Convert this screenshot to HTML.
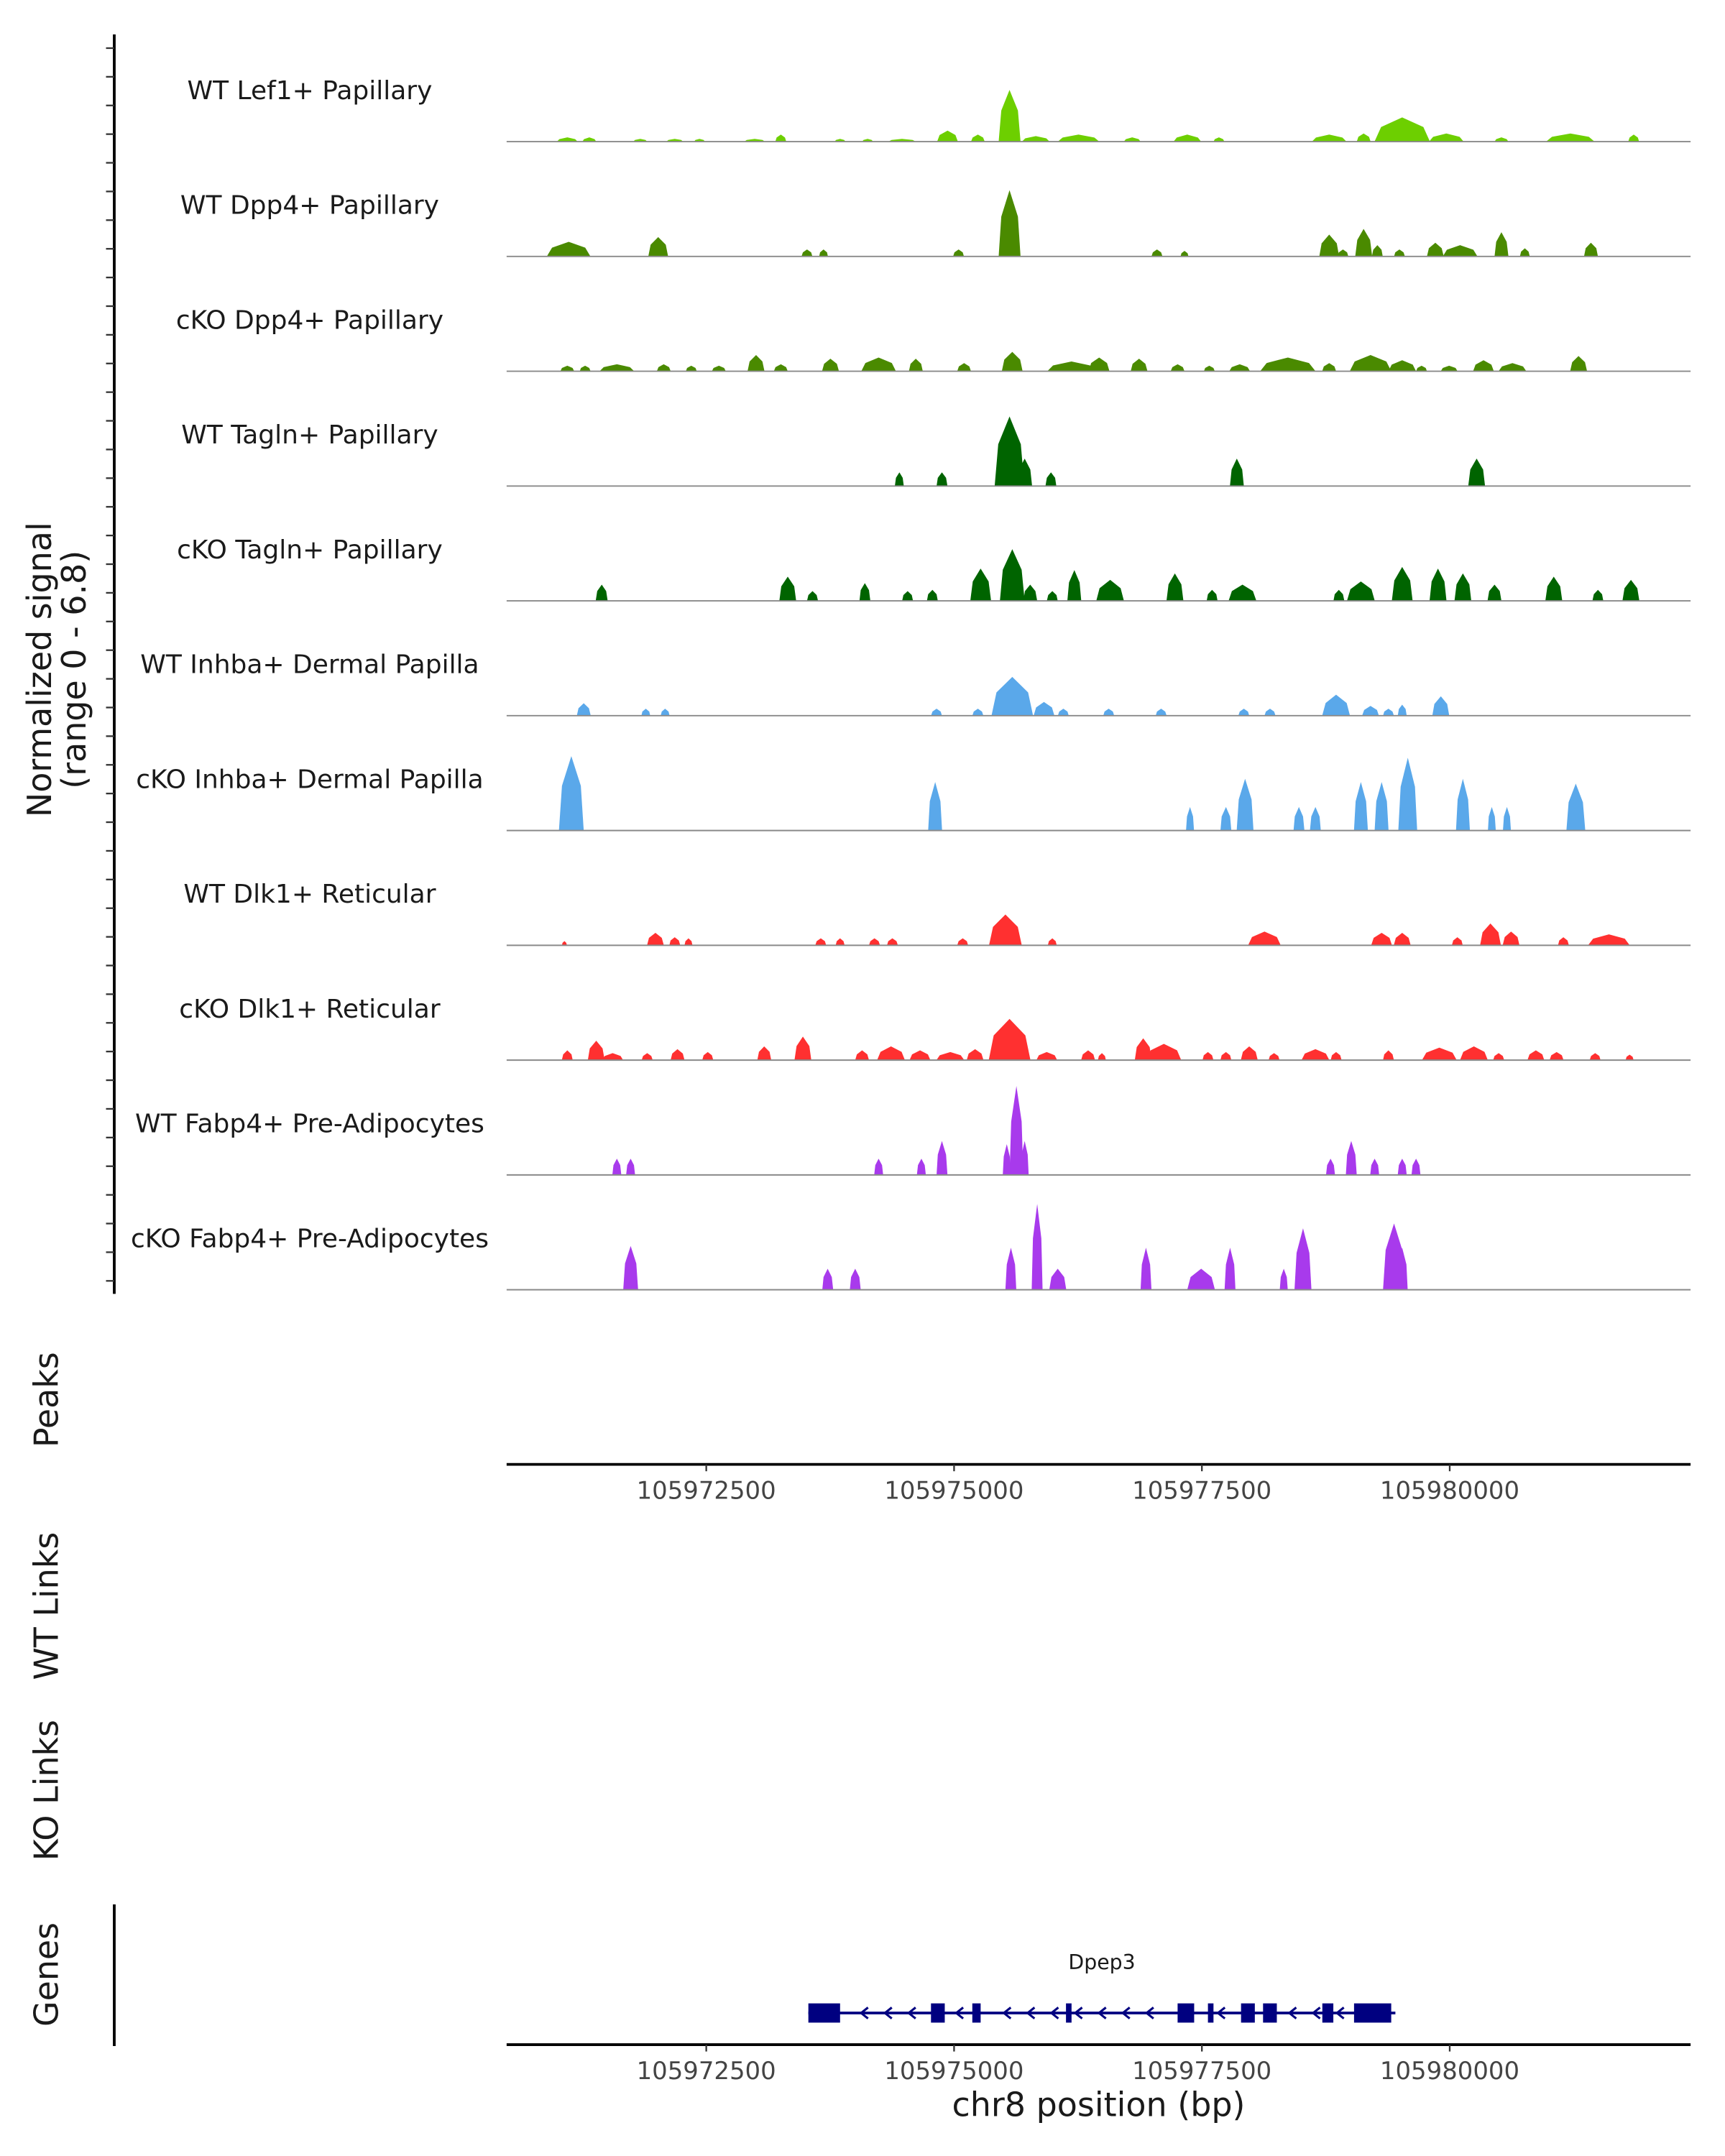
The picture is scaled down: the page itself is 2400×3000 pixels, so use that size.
<!DOCTYPE html>
<html><head><meta charset="utf-8"><style>
html,body{margin:0;padding:0;background:#fff}
svg{display:block}
text{font-family:"DejaVu Sans","Liberation Sans",sans-serif;fill:#1a1a1a}
</style></head><body>
<svg id="chart" xmlns="http://www.w3.org/2000/svg" width="2400" height="3000" viewBox="0 0 1253 1568" preserveAspectRatio="none">
<rect width="1253" height="1568" fill="#fff"/>
<g id="tracks"></g>
<g id="axes"></g>
<g id="gene"></g>
</svg>
<script>
// ---- data ----
const regionStart = 105970486;
const regionEnd = 105982430;
const signalMax = 6.8;
const xTicks = [105972500, 105975000, 105977500, 105980000];
const trackNames = ["WT Lef1+ Papillary","WT Dpp4+ Papillary","cKO Dpp4+ Papillary","WT Tagln+ Papillary","cKO Tagln+ Papillary","WT Inhba+ Dermal Papilla","cKO Inhba+ Dermal Papilla","WT Dlk1+ Reticular","cKO Dlk1+ Reticular","WT Fabp4+ Pre-Adipocytes","cKO Fabp4+ Pre-Adipocytes"];
const trackColors = ["#6dcf00","#4a8a00","#4a8a00","#006400","#006400","#5aa8ea","#5aa8ea","#ff3030","#ff3030","#a83aec","#a83aec"];
// peaks: [positionBp, widthBp, signal]
const lef1WT = [[105971098,210,0.26],[105971320,140,0.26],[105971834,140,0.17],[105972182,170,0.17],[105972432,110,0.17],[105972988,210,0.17],[105973252,110,0.43],[105973850,110,0.17],[105974128,110,0.17],[105974475,280,0.17],[105974934,210,0.68],[105975240,140,0.43],[105975560,220,3.2],[105975824,280,0.34],[105976255,420,0.43],[105976797,170,0.26],[105977353,280,0.43],[105977672,110,0.26],[105978784,350,0.43],[105979132,140,0.5],[105979521,560,1.5],[105979966,350,0.5],[105980522,140,0.26],[105981217,490,0.5],[105981856,110,0.43]];
const dpp4WT = [[105971112,440,0.9],[105972015,200,1.2],[105973516,110,0.43],[105973683,90,0.43],[105975045,110,0.43],[105975560,220,4.1],[105977047,110,0.43],[105977325,80,0.34],[105978784,200,1.35],[105978923,110,0.43],[105979132,170,1.7],[105979270,110,0.7],[105979493,110,0.43],[105979855,170,0.85],[105980105,350,0.7],[105980522,140,1.5],[105980758,100,0.5],[105981425,140,0.85]];
const dpp4KO = [[105971098,140,0.34],[105971278,110,0.34],[105971598,350,0.43],[105972071,140,0.43],[105972349,110,0.34],[105972627,140,0.34],[105973002,170,1.0],[105973252,140,0.43],[105973753,170,0.77],[105974239,350,0.85],[105974614,140,0.77],[105975101,140,0.5],[105975587,210,1.2],[105976185,490,0.6],[105976463,210,0.85],[105976866,170,0.77],[105977255,140,0.43],[105977575,110,0.34],[105977881,210,0.43],[105978367,560,0.85],[105978784,140,0.5],[105979201,420,1.0],[105979521,280,0.68],[105979716,110,0.34],[105979994,170,0.34],[105980341,210,0.68],[105980633,280,0.5],[105981300,170,0.94]];
const taglnWT = [[105974448,90,0.85],[105974878,110,0.85],[105975560,300,4.3],[105975712,150,1.7],[105975977,110,0.85],[105977853,140,1.7],[105980272,170,1.7]];
const taglnKO = [[105971445,120,1.0],[105973322,170,1.5],[105973572,110,0.6],[105974100,110,1.1],[105974531,110,0.6],[105974781,110,0.68],[105975268,210,2.0],[105975587,250,3.2],[105975768,140,1.0],[105975991,110,0.6],[105976213,140,1.9],[105976574,280,1.3],[105977228,170,1.7],[105977603,110,0.68],[105977909,280,1.0],[105978882,110,0.68],[105979104,280,1.2],[105979521,210,2.1],[105979882,170,2.0],[105980133,170,1.7],[105980452,140,1.0],[105981050,170,1.5],[105981495,110,0.68],[105981828,170,1.3]];
const inhbaWT = [[105971264,140,0.77],[105971890,90,0.43],[105972085,90,0.43],[105974823,110,0.43],[105975240,110,0.43],[105975587,420,2.4],[105975907,210,0.85],[105976102,110,0.43],[105976560,110,0.43],[105977089,110,0.43],[105977923,110,0.43],[105978187,110,0.43],[105978854,280,1.3],[105979201,170,0.6],[105979382,110,0.43],[105979521,90,0.68],[105979910,170,1.2]];
const inhbaKO = [[105971139,250,4.6],[105974809,140,3.0],[105977380,80,1.45],[105977742,110,1.45],[105977936,170,3.2],[105978479,110,1.45],[105978645,110,1.45],[105979104,140,3.0],[105979313,140,3.0],[105979577,190,4.5],[105980133,140,3.2],[105980425,80,1.45],[105980577,80,1.45],[105981272,190,2.9]];
const dlk1WT = [[105971069,50,0.26],[105971987,170,0.77],[105972182,110,0.5],[105972321,80,0.43],[105973655,110,0.43],[105973850,90,0.43],[105974197,110,0.43],[105974378,110,0.43],[105975087,110,0.43],[105975518,330,1.9],[105975991,90,0.43],[105978131,330,0.85],[105979313,210,0.77],[105979521,170,0.77],[105980077,110,0.5],[105980411,210,1.35],[105980619,170,0.85],[105981147,110,0.5],[105981606,420,0.68]];
const dlk1KO = [[105971098,110,0.6],[105971390,170,1.2],[105971556,210,0.43],[105971904,110,0.43],[105972210,140,0.68],[105972515,110,0.5],[105973085,140,0.85],[105973475,170,1.45],[105974072,140,0.6],[105974364,280,0.85],[105974656,210,0.6],[105974962,280,0.5],[105975212,170,0.68],[105975560,420,2.55],[105975935,210,0.5],[105976352,140,0.6],[105976491,80,0.43],[105976908,170,1.35],[105977116,350,1.0],[105977561,110,0.5],[105977742,110,0.5],[105977978,170,0.85],[105978228,110,0.43],[105978645,280,0.68],[105978854,110,0.5],[105979382,110,0.6],[105979896,350,0.77],[105980244,280,0.85],[105980494,110,0.43],[105980869,170,0.6],[105981078,140,0.5],[105981467,110,0.43],[105981815,80,0.34]];
const fabp4WT = [[105971598,90,1.0],[105971737,90,1.0],[105974239,90,1.0],[105974670,90,1.0],[105974878,110,2.1],[105975532,80,1.9],[105975629,140,5.5],[105975712,80,2.1],[105978798,90,1.0],[105979007,110,2.1],[105979243,90,1.0],[105979521,90,1.0],[105979660,90,1.0]];
const fabp4KO = [[105971737,150,2.7],[105973725,110,1.3],[105974003,110,1.3],[105975573,110,2.6],[105975838,110,5.3],[105976046,170,1.3],[105976936,110,2.6],[105977492,280,1.3],[105977784,110,2.6],[105978326,80,1.3],[105978520,170,3.8],[105979438,220,4.1],[105979521,110,2.6]];
const trackData = [lef1WT,dpp4WT,dpp4KO,taglnWT,taglnKO,inhbaWT,inhbaKO,dlk1WT,dlk1KO,fabp4WT,fabp4KO];
const geneName = "Dpep3";
const geneStart = 105973530;
const geneEnd = 105979452;
const exonStarts = [105973530,105974767,105975184,105976129,105977255,105977561,105977895,105978117,105978715,105979035];
const exonEnds   = [105973850,105974906,105975268,105976185,105977422,105977617,105978034,105978256,105978826,105979410];

// ---- layout ----
const NS = "http://www.w3.org/2000/svg";
const X0 = 368, X1 = 1228;
const firstBase = 103, trackStep = 83.5, trackH = 80;
const xScale = bp => X0 + (bp - regionStart) / (regionEnd - regionStart) * (X1 - X0);
const yScale = (v, base) => base - v / signalMax * trackH;
function mk(tag, attrs, parent, text) {
  const e = document.createElementNS(NS, tag);
  for (const k in attrs) e.setAttribute(k, attrs[k]);
  if (text !== undefined) e.textContent = text;
  parent.appendChild(e);
  return e;
}
const tracks = document.getElementById('tracks');
const axes = document.getElementById('axes');
const geneG = document.getElementById('gene');

trackNames.forEach((name, i) => {
  const base = firstBase + i * trackStep;
  const g = mk('g', {}, tracks);
  
  
  const lbl = mk('text', {x: 225, y: base - 31, 'text-anchor': 'middle', 'font-size': 18.8}, g, name);
  
  
  trackData[i].forEach(p => {
    const s = xScale(p[0] - p[1] / 2), e = xScale(p[0] + p[1] / 2), c = xScale(p[0]);
    const w = e - s;
    const top = yScale(p[2], base), mid = yScale(p[2] * 0.6, base);
    const pts = [[s, base], [s + w * 0.12, mid], [c, top], [e - w * 0.12, mid], [e, base]];
    const poly = mk('polygon', {points: pts.map(q => q[0].toFixed(1) + ',' + q[1].toFixed(1)).join(' '), fill: trackColors[i]}, g);
    
    
  });
  const bl = mk('line', {x1: X0, x2: X1, y1: base, y2: base, stroke: '#8a8a8a', 'stroke-width': 1}, g);
  
  
});

// left signal axis
const la = mk('line', {x1: 83, x2: 83, y1: 25, y2: 941, stroke: '#000', 'stroke-width': 2}, axes);


for (let y = 35; y <= 940; y += 20.85) {
  const t = mk('line', {x1: 77, x2: 83, y1: y, y2: y, stroke: '#333', 'stroke-width': 1.2}, axes);
  
  
}
const yt = mk('text', {transform: 'translate(42,487) rotate(-90)', 'text-anchor': 'middle', 'font-size': 24}, axes);


mk('tspan', {x: 0, dy: -5}, yt, 'Normalized signal');
mk('tspan', {x: 0, dy: 25}, yt, '(range 0 - 6.8)');

function sideLabel(txt, y, name) {
  const t = mk('text', {transform: 'translate(42,' + y + ') rotate(-90)', 'text-anchor': 'middle', 'font-size': 24}, axes, txt);
  
  
}
sideLabel('Peaks', 1018, 'peaks-label');
sideLabel('WT Links', 1168, 'wt-links-label');
sideLabel('KO Links', 1302, 'ko-links-label');
sideLabel('Genes', 1436, 'genes-label');

function xAxis(y, name) {
  const g = mk('g', {}, axes);
  
  
  mk('line', {x1: X0, x2: X1, y1: y, y2: y, stroke: '#000', 'stroke-width': 2}, g);
  xTicks.forEach(v => {
    const x = xScale(v);
    mk('line', {x1: x, x2: x, y1: y, y2: y + 5, stroke: '#333', 'stroke-width': 1.2}, g);
    const t = mk('text', {x: x, y: y + 25, 'text-anchor': 'middle', 'font-size': 17.7, style: 'fill:#444'}, g, String(v));
    
    
  });
}
xAxis(1065, 'peaks-x-axis');
xAxis(1487, 'genes-x-axis');
const xt = mk('text', {x: 798, y: 1539, 'text-anchor': 'middle', 'font-size': 24}, axes, 'chr8 position (bp)');



const ga = mk('line', {x1: 83, x2: 83, y1: 1385, y2: 1488, stroke: '#000', 'stroke-width': 2}, axes);



// gene model
const gy = 1464;
const gl = mk('line', {x1: xScale(geneStart), x2: xScale(geneEnd), y1: gy, y2: gy, stroke: '#000080', 'stroke-width': 2}, geneG);


exonStarts.forEach((s, i) => {
  const x = xScale(s), w = xScale(exonEnds[i]) - x;
  const r = mk('rect', {x: x, y: gy - 7, width: Math.max(w, 2), height: 14, fill: '#000080'}, geneG);
  
  
});
for (let bp = geneStart + 320; bp < geneEnd - 80; bp += 240) {
  const x = xScale(bp);
  const inExon = exonStarts.some((s, i) => bp >= s - 60 && bp <= exonEnds[i] + 60);
  if (inExon) continue;
  const a = mk('polyline', {points: (x + 3) + ',' + (gy - 4) + ' ' + (x - 2) + ',' + gy + ' ' + (x + 3) + ',' + (gy + 4), fill: 'none', stroke: '#000080', 'stroke-width': 1.6}, geneG);
  
  
}
const gn = mk('text', {x: (xScale(geneStart) + xScale(geneEnd)) / 2, y: 1432, 'text-anchor': 'middle', 'font-size': 14.8}, geneG, geneName);


</script>
</body></html>
